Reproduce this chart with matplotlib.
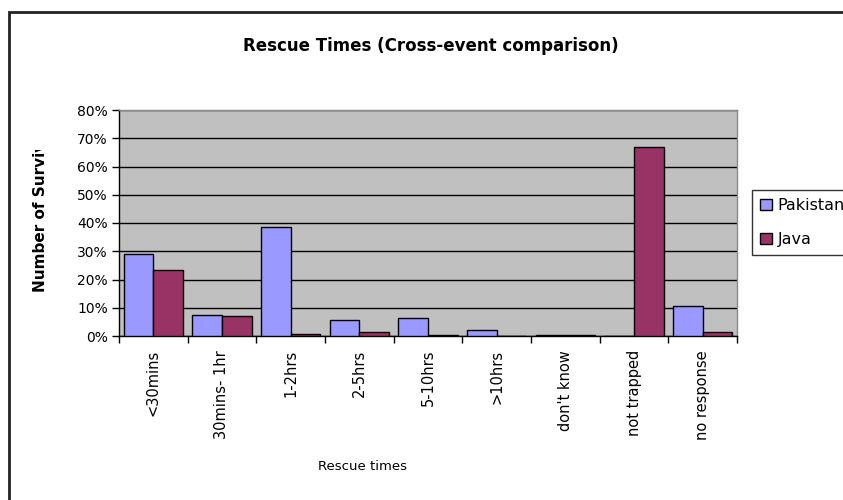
import matplotlib
matplotlib.use("Agg")
import matplotlib.pyplot as plt
import numpy as np
from matplotlib.transforms import Bbox
from matplotlib.patches import Rectangle

categories = ["<30mins", "30mins- 1hr", "1-2hrs", "2-5hrs", "5-10hrs",
              ">10hrs", "don't know", "not trapped", "no response"]
pakistan = [29.2, 7.4, 38.6, 5.7, 6.5, 2.2, 0.4, 0.0, 10.5]
java = [23.4, 7.0, 0.6, 1.3, 0.5, 0.0, 0.4, 67.0, 1.3]
series_names = ["Pakistan", "Java"]
yticks = [0, 10, 20, 30, 40, 50, 60, 70, 80]

W, H = 843, 500
fig = plt.figure(figsize=(W / 100, H / 100), dpi=100)
fig.patch.set_facecolor("white")

# outer chart frame (runs off the right and bottom edges)
fig.patches.append(Rectangle((8.5 / W, -0.1), 1.2, (H - 12) / H + 0.1,
                             transform=fig.transFigure, fill=False,
                             edgecolor="#222222", linewidth=2.0))

ax = fig.add_axes([119 / W, (H - 336) / H, (737 - 119) / W, (336 - 110) / H])
ax.set_facecolor("#C0C0C0")

x = np.arange(len(categories))
bw = 0.43
ax.bar(x - bw / 2, pakistan, bw, color="#9999FF", edgecolor="black",
       linewidth=1.0, label=series_names[0], zorder=3)
ax.bar(x + bw / 2, java, bw, color="#993366", edgecolor="black",
       linewidth=1.0, label=series_names[1], zorder=3)

ax.set_xlim(-0.5, len(categories) - 0.5)
ax.set_ylim(0, 80)
ax.set_yticks(yticks)
ax.set_yticklabels([f"{v}%" for v in yticks], fontsize=10)
ax.yaxis.grid(True, color="black", linewidth=1.0, zorder=1)
ax.set_axisbelow(True)

# category boundary ticks on x, labels at centres
ax.set_xticks(np.arange(len(categories) + 1) - 0.5)
ax.set_xticklabels([])
ax.set_xticks(x, minor=True)
ax.set_xticklabels(categories, minor=True, rotation=90, fontsize=10.5)
ax.tick_params(axis="x", which="minor", length=0, pad=10)
ax.tick_params(axis="x", which="major", length=5, width=1, direction="out")
ax.tick_params(axis="y", length=5, width=1, direction="out", pad=3)

for s in ["top", "right"]:
    ax.spines[s].set_color("#8a8a8a")
    ax.spines[s].set_linewidth(1.0)
for s in ["left", "bottom"]:
    ax.spines[s].set_color("black")
    ax.spines[s].set_linewidth(1.0)

fig.text(431 / W, 1 - 46 / H, "Rescue Times (Cross-event comparison)",
         ha="center", va="center", fontsize=12, fontweight="bold")
fig.text(362 / W, 1 - 467 / H, "Rescue times", ha="center", va="center",
         fontsize=9.5)

ylab = fig.text(41 / W, 1 - 292 / H, "Number of Survivors", rotation=90,
                ha="center", va="bottom", fontsize=11, fontweight="bold")
ylab.set_clip_box(Bbox.from_extents(0, 0, 100, H - 150))
ylab.set_clip_on(True)

leg = fig.legend(loc="upper left", bbox_to_anchor=(752 / W, 1 - 190 / H),
                 fontsize=11.5, frameon=True, fancybox=False, handlelength=0.75,
                 handleheight=0.75, handletextpad=0.35, borderpad=0.5,
                 labelspacing=1.2, borderaxespad=0)
leg.get_frame().set_edgecolor("black")
leg.get_frame().set_linewidth(1.0)

fig.savefig("out.png", dpi=100)
